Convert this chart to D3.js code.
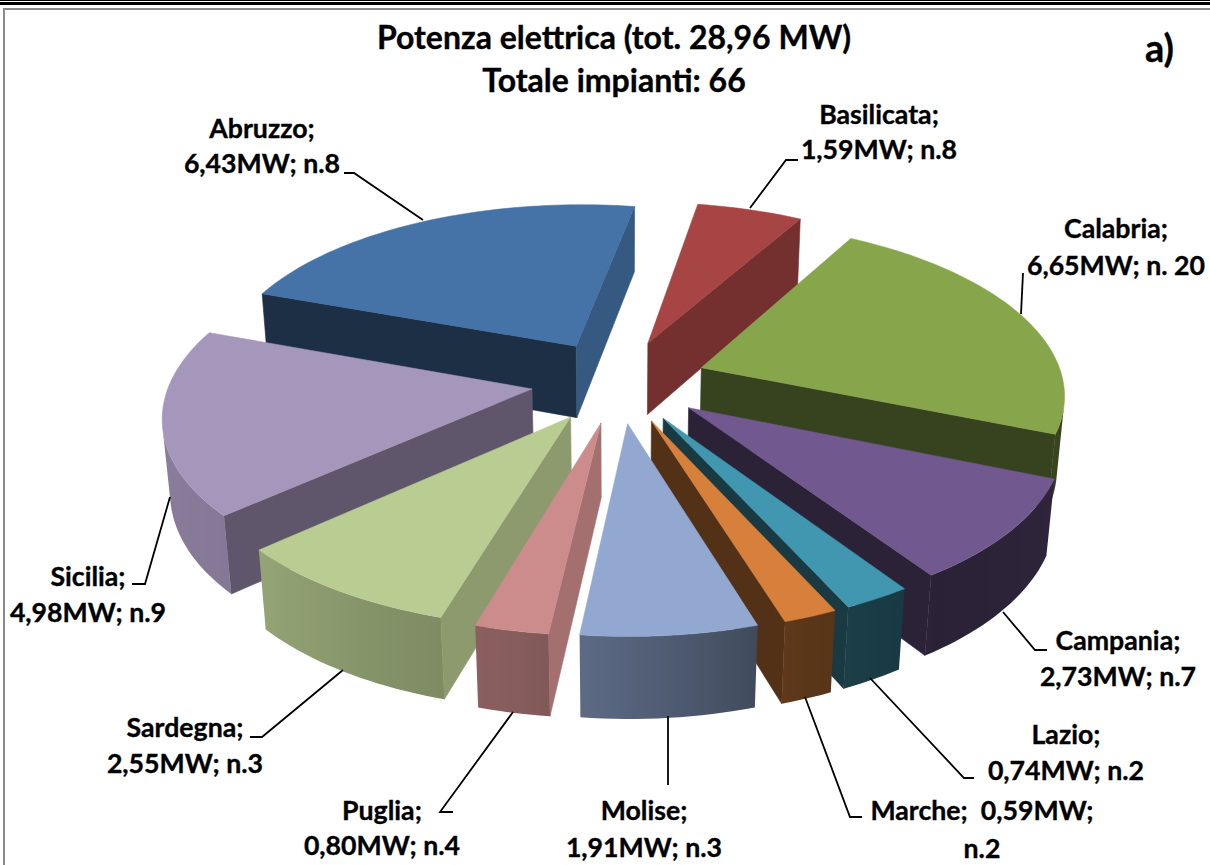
<!DOCTYPE html>
<html>
<head>
<meta charset="utf-8">
<script src="https://cdnjs.cloudflare.com/ajax/libs/d3/7.8.5/d3.min.js"></script>
<style>
html,body{margin:0;padding:0;background:#fff;overflow:hidden}
svg{display:block}
text{font-family:Lato,"Open Sans",sans-serif;font-weight:700;fill:#000;stroke:#000;stroke-width:.35}
</style>
</head>
<body>
<svg id="c" width="1210" height="865"></svg>
<script>
const regions = ["Abruzzo","Basilicata","Calabria","Campania","Lazio","Marche","Molise","Puglia","Sardegna","Sicilia"];
const powerMW = [6.43,1.59,6.65,2.73,0.74,0.59,1.91,0.80,2.55,4.98];
const plantLabels = ["n.8","n.8","n. 20","n.7","n.2","n.2","n.3","n.4","n.3","n.9"];
const powerText = ["6,43","1,59","6,65","2,73","0,74","0,59","1,91","0,80","2,55","4,98"];
const titleLines = ["Potenza elettrica (tot. 28,96 MW)","Totale impianti: 66"];

// Styles
const topColors = ["#4572a7","#a64543","#87a54b","#71588f","#4197af","#d7803b","#92a8d1","#cd8c8c","#b9cc92","#a596bb"];

// Projection
const cx=619, cy=381, R=362, H=84, EXPLODE=88, START=-70;
const sinE=0.47, cosE=Math.sqrt(1-sinE*sinE), D=2300;
function proj(a, r, z, ox, oy){ // a clockwise from top, r radius; z height
  const x=ox+r*Math.sin(a), y=oy-r*Math.cos(a); // y positive towards viewer
  const W=D-(y*cosE+z*sinE);
  return [cx+D*x/W, cy+D*(y*sinE-z*cosE)/W];
}
const deg=Math.PI/180;
// Lighting as a function of the facing direction, degrees clockwise from the back
const radialLight=d3.scaleLinear().domain([0,95,105,120,136,200,240,360]).range([.8,.8,.76,.7,.58,.41,.38,.38]).clamp(true);
const outerLight=d3.scaleLinear().domain([0,110,145,160,184,194,226,288,360]).range([.42,.42,.38,.42,.62,.67,.8,.88,.88]).clamp(true);
function shade(col,f){const c=d3.rgb(col);return d3.rgb(c.r*f,c.g*f,c.b*f).formatHex();}
function norm(d){return ((d%360)+360)%360;}

const pie=d3.pie().sort(null).value(d=>d).startAngle(START*deg).endAngle((START+360)*deg);
const arcs=pie(powerMW).map((p,i)=>{
  const mid=(p.startAngle+p.endAngle)/2;
  return {i,a0:p.startAngle,a1:p.endAngle,mid,ox:EXPLODE*Math.sin(mid),oy:-EXPLODE*Math.cos(mid)};
});
arcs.sort((a,b)=>a.oy-b.oy);

const svg=d3.select("#c");
const defs=svg.append("defs");
const line=d3.line();
svg.append("rect").attr("x",0).attr("y",0).attr("width",1210).attr("height",1).attr("fill","#000");
svg.append("rect").attr("x",0).attr("y",2).attr("width",1210).attr("height",3).attr("fill","#000");
svg.append("path").attr("d","M1210,9H4V865").attr("fill","none").attr("stroke","#8a8a8a").attr("stroke-width",2);

function area(q){let s=0;for(let k=0;k<q.length;k++){const a=q[k],b=q[(k+1)%q.length];s+=a[0]*b[1]-b[0]*a[1];}return s;}
const g=svg.append("g");
function face(q,col){
  if(area(q)>=0) return;
  g.append("path").attr("d",line(q)+"Z").attr("fill",col).attr("stroke",col).attr("stroke-width",.6);
}
arcs.forEach(s=>{
  const col=topColors[s.i];
  const steps=Math.max(4,Math.ceil((s.a1-s.a0)/deg/1.5));
  const angs=d3.range(steps+1).map(k=>s.a0+(s.a1-s.a0)*k/steps);
  const T=a=>proj(a,R,0,s.ox,s.oy), B=a=>proj(a,R,-H,s.ox,s.oy);
  const tipT=proj(0,0,0,s.ox,s.oy), tipB=proj(0,0,-H,s.ox,s.oy);
  // radial walls
  face([tipT,T(s.a0),B(s.a0),tipB],shade(col,radialLight(norm(s.a0/deg-90))));
  face([T(s.a1),tipT,tipB,B(s.a1)],shade(col,radialLight(norm(s.a1/deg+90))));
  // outer wall: the part turned towards the viewer, as one gradient-filled shape
  const vis=[];
  for(let k=0;k<steps;k++){
    const a=angs[k],b=angs[k+1];
    if(area([T(a),T(b),B(b),B(a)])<0){ if(!vis.length) vis.push(a); vis.push(b); }
  }
  if(vis.length){
    const pts=vis.map(a=>({x:T(a)[0],f:outerLight(norm(a/deg))})).sort((p,q)=>p.x-q.x);
    const x0=pts[0].x, x1=pts[pts.length-1].x, id="wall"+s.i;
    const lg=defs.append("linearGradient").attr("id",id).attr("gradientUnits","userSpaceOnUse")
      .attr("x1",x0).attr("x2",x1).attr("y1",0).attr("y2",0);
    pts.forEach(p=>lg.append("stop").attr("offset",(p.x-x0)/(x1-x0)).attr("stop-color",shade(col,p.f)));
    const poly=vis.map(T).concat(vis.slice().reverse().map(B));
    g.append("path").attr("d",line(poly)+"Z").attr("fill",`url(#${id})`);
  }
  // top
  const poly=[tipT].concat(angs.map(T));
  g.append("path").attr("d",line(poly)+"Z").attr("fill",col).attr("stroke",col).attr("stroke-width",.5);
});

// Label placement
const labelPos=[
 {x:262,y1:138,y2:173,leader:[[344,173],[354,173],[423,220]]},
 {x:879,y1:124,y2:159,leader:[[798,160],[786,160],[750,208]]},
 {x:1116,y1:238,y2:275,leader:[[1023,273],[1021,314]]},
 {x:1118,y1:650,y2:686,leader:[[1047,650],[1035,650],[1003,612]]},
 {x:1066,y1:744,y2:780,leader:[[974,778],[964,778],[870,678]]},
 {x:982,y1:820,y2:858,leader:[[862,817],[850,817],[805,697]]},
 {x:644,y1:820,y2:857,leader:[[668,785],[668,716]]},
 {x:382,y1:820,y2:855,leader:[[453,812],[440,812],[513,712]]},
 {x:185,y1:737,y2:773,leader:[[250,737],[262,737],[343,670]]},
 {x:88,y1:586,y2:622,leader:[[132,584],[145,584],[170,497]]}
];
regions.forEach((name,i)=>{
  const p=labelPos[i];
  svg.append("path").attr("d",line(p.leader)).attr("fill","none").attr("stroke","#000").attr("stroke-width",1.8);
  const special=name==="Marche";
  const l1=special?`${name};  ${powerText[i]}MW;`:`${name};`;
  const l2=special?plantLabels[i]:`${powerText[i]}MW; ${plantLabels[i]}`;
  svg.append("text").attr("x",p.x).attr("y",p.y1).attr("text-anchor","middle").attr("font-size",26.7).style("white-space","pre").text(l1);
  svg.append("text").attr("x",p.x).attr("y",p.y2).attr("text-anchor","middle").attr("font-size",26.7).text(l2);
});
titleLines.forEach((t,i)=>{
  svg.append("text").attr("x",614).attr("y",49+i*43).attr("text-anchor","middle").attr("font-size",32).text(t);
});
svg.append("text").attr("x",1145).attr("y",62).attr("font-size",38).text("a)");
</script>
</body>
</html>
